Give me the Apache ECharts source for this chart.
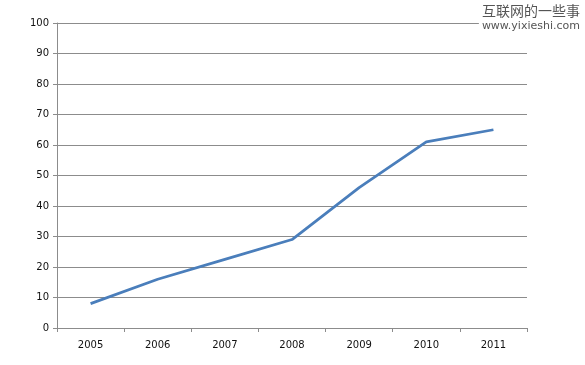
<!DOCTYPE html>
<html>
<head>
<meta charset="utf-8">
<script src="https://cdn.jsdelivr.net/npm/echarts@6/dist/echarts.min.js"></script>
<style>
html,body{margin:0;padding:0;background:#fff;}
#chart{width:585px;height:365px;}
</style>
</head>
<body>
<div id="chart"></div>
<script>
const categories = ['2005', '2006', '2007', '2008', '2009', '2010', '2011'];
const values = [8, 16, 22.5, 29, 46, 61, 65];
const watermarkTitle = '互联网的一些事';
const watermarkUrl = 'www.yixieshi.com';

const chart = echarts.init(document.getElementById('chart'), null, {renderer: 'canvas'});
chart.setOption({
  animation: false,
  backgroundColor: '#ffffff',
  grid: {left: 57, right: 58, top: 23, bottom: 37, containLabel: false},
  xAxis: {
    type: 'category',
    data: categories,
    boundaryGap: true,
    axisLine: {lineStyle: {color: '#8c8c8c', width: 1}},
    axisTick: {show: true, length: 4, lineStyle: {color: '#8c8c8c'}},
    axisLabel: {color: '#111111', fontFamily: 'DejaVu Sans', fontSize: 10, margin: 12}
  },
  yAxis: {
    type: 'value',
    min: 0,
    max: 100,
    interval: 10,
    axisLine: {show: true, lineStyle: {color: '#8c8c8c', width: 1}},
    axisTick: {show: true, length: 4, lineStyle: {color: '#8c8c8c'}},
    axisLabel: {color: '#111111', fontFamily: 'DejaVu Sans', fontSize: 10, margin: 8},
    splitLine: {show: true, lineStyle: {color: '#8c8c8c', width: 1}}
  },
  series: [{
    type: 'line',
    data: values,
    symbol: 'none',
    lineStyle: {color: '#4a7ebb', width: 2.75},
    itemStyle: {color: '#4a7ebb'}
  }],
  title: {
    text: watermarkTitle,
    subtext: watermarkUrl,
    right: 0,
    top: 2,
    itemGap: 3,
    padding: [2, 5, 2, 3],
    backgroundColor: '#ffffff',
    z: 10,
    textStyle: {fontFamily: 'Noto Sans CJK SC', fontSize: 14, fontWeight: 'normal', color: '#555555'},
    subtextStyle: {fontFamily: 'DejaVu Sans', fontSize: 11, color: '#555555'}
  }
});
</script>
</body>
</html>
